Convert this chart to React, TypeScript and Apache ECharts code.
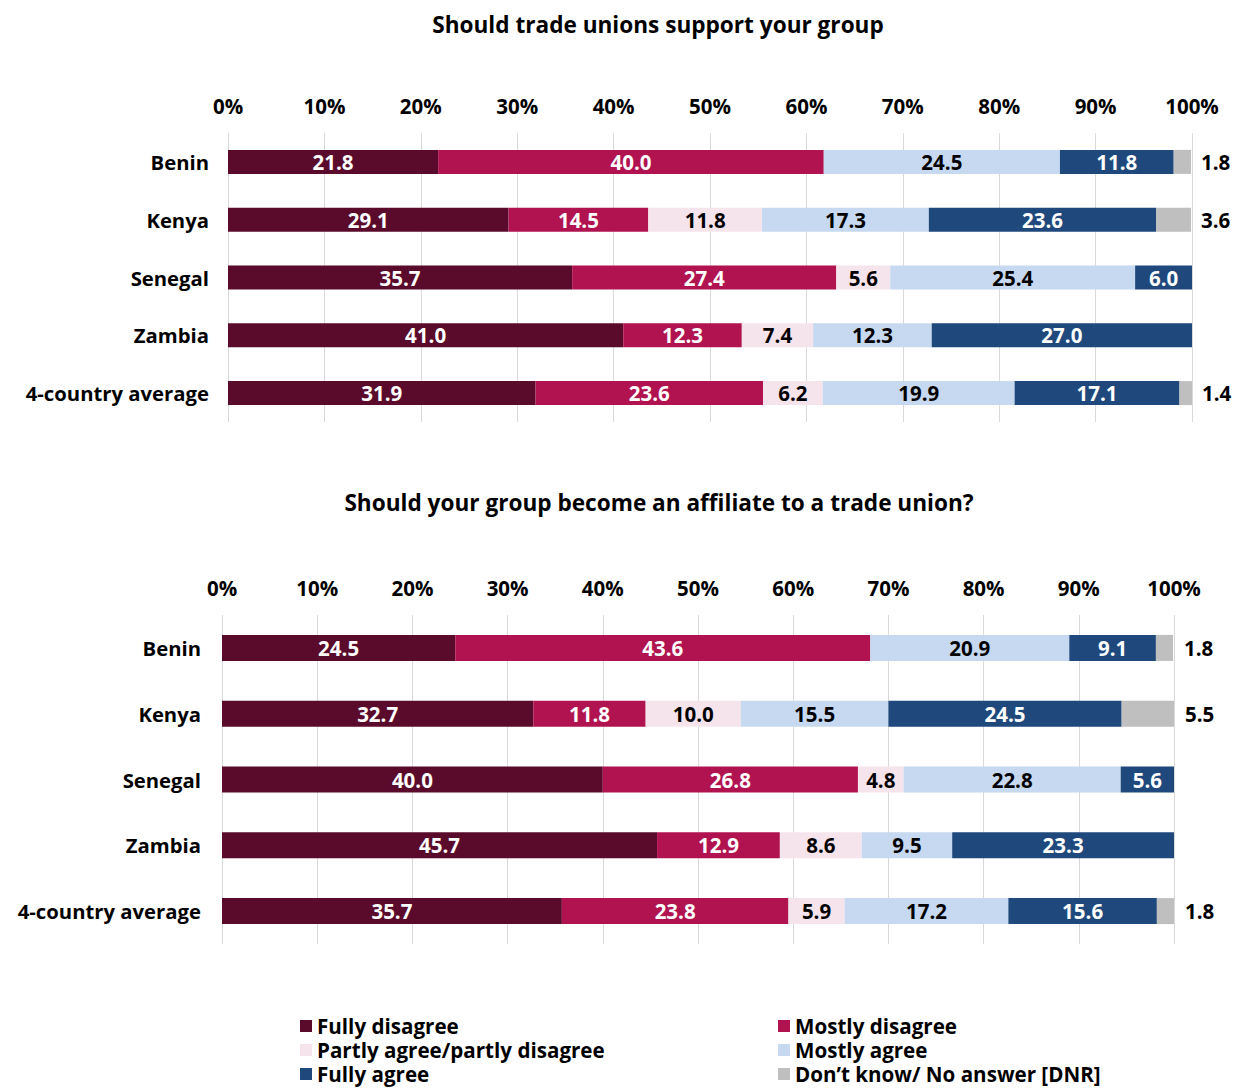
import React, { useEffect, useRef } from "react";
import * as echarts from "echarts";

const seriesNames = [
  "Fully disagree",
  "Mostly disagree",
  "Partly agree/partly disagree",
  "Mostly agree",
  "Fully agree",
  "Don\u2019t know/ No answer [DNR]",
];
const colors = ["#5A0B2B", "#B0134F", "#F6E4EC", "#C6D9F0", "#1F497D", "#BFBFBF"];
const labelColors = ["#FFFFFF", "#FFFFFF", "#000000", "#000000", "#FFFFFF", "#000000"];

const categories = ["Benin", "Kenya", "Senegal", "Zambia", "4-country average"];

const title1 = "Should trade unions support your group";
const title2 = "Should your group become an affiliate to a trade union?";

// Chart 1 values per series, in category order
const c1FullyDisagree = [21.8, 29.1, 35.7, 41.0, 31.9];
const c1MostlyDisagree = [40.0, 14.5, 27.4, 12.3, 23.6];
const c1Partly = [0, 11.8, 5.6, 7.4, 6.2];
const c1MostlyAgree = [24.5, 17.3, 25.4, 12.3, 19.9];
const c1FullyAgree = [11.8, 23.6, 6.0, 27.0, 17.1];
const c1DNR = [1.8, 3.6, 0, 0, 1.4];

// Chart 2 values
const c2FullyDisagree = [24.5, 32.7, 40.0, 45.7, 35.7];
const c2MostlyDisagree = [43.6, 11.8, 26.8, 12.9, 23.8];
const c2Partly = [0, 10.0, 4.8, 8.6, 5.9];
const c2MostlyAgree = [20.9, 15.5, 22.8, 9.5, 17.2];
const c2FullyAgree = [9.1, 24.5, 5.6, 23.3, 15.6];
const c2DNR = [1.8, 5.5, 0, 0, 1.8];

const FONT = "'Open Sans', 'Noto Sans', sans-serif";

export default function App() {
  const ref = useRef<HTMLDivElement>(null);
  useEffect(() => {
    if (!ref.current) return;
    const chart = echarts.init(ref.current, undefined, { renderer: "svg" });
    const chart1 = [c1FullyDisagree, c1MostlyDisagree, c1Partly, c1MostlyAgree, c1FullyAgree, c1DNR];
    const chart2 = [c2FullyDisagree, c2MostlyDisagree, c2Partly, c2MostlyAgree, c2FullyAgree, c2DNR];

    const makeSeries = (data: number[][], idx: number, barWidth: number, dist: number) =>
      data.map((vals, i) => ({
        name: seriesNames[i],
        type: "bar",
        stack: "s" + idx,
        xAxisIndex: idx,
        yAxisIndex: idx,
        barWidth,
        data: vals,
        itemStyle: { color: colors[i] },
        label: {
          show: true,
          position: i === 5 ? "right" : "inside",
          distance: dist,
          color: i === 5 ? "#000000" : labelColors[i],
          fontFamily: FONT,
          fontWeight: "bold",
          fontSize: 20.5,
          formatter: (p: any) => (p.value ? Number(p.value).toFixed(1) : ""),
        },
      }));

    const xAxis = (idx: number) => ({
      type: "value",
      gridIndex: idx,
      position: "top",
      min: 0,
      max: 100,
      interval: 10,
      axisLine: { show: false },
      axisTick: { show: false },
      splitLine: { show: true, lineStyle: { color: "#D9D9D9", width: 1 } },
      axisLabel: {
        formatter: "{value}%",
        color: "#000000",
        fontFamily: FONT,
        fontWeight: "bold",
        fontSize: 20.5,
        margin: 17,
      },
    });
    const yAxis = (idx: number, margin: number) => ({
      type: "category",
      gridIndex: idx,
      inverse: true,
      data: categories,
      axisLine: { show: false },
      axisTick: { show: false },
      axisLabel: {
        color: "#000000",
        fontFamily: FONT,
        fontWeight: "bold",
        fontSize: 20.3,
        margin,
      },
    });

    const legendCommon = {
      orient: "vertical",
      icon: "rect",
      itemWidth: 12,
      itemHeight: 12,
      itemGap: 2,
      padding: 0,
      textStyle: {
        color: "#000000",
        fontFamily: FONT,
        fontWeight: "bold",
        fontSize: 20.6,
        lineHeight: 22,
        padding: [0, 0, 0, 0],
      },
    };

    chart.setOption({
      animation: false,
      backgroundColor: "#FFFFFF",
      grid: [
        { left: 220, right: 41, top: 125, height: 289 },
        { left: 214, right: 59, top: 607, height: 329 },
      ],
      xAxis: [xAxis(0), xAxis(1)],
      yAxis: [yAxis(0, 19), yAxis(1, 21)],
      legend: [
        {
          ...legendCommon,
          left: 292,
          top: 1007,
          data: [seriesNames[0], seriesNames[2], seriesNames[4]],
        },
        {
          ...legendCommon,
          left: 770,
          top: 1007,
          data: [seriesNames[1], seriesNames[3], seriesNames[5]],
        },
      ],
      graphic: [
        {
          type: "text",
          x: 650,
          y: 16,
          style: {
            text: title1,
            fontFamily: FONT,
            fontWeight: "bold",
            fontSize: 22.6,
            fill: "#000000",
            align: "center",
            verticalAlign: "middle",
          },
        },
        {
          type: "text",
          x: 651,
          y: 494,
          style: {
            text: title2,
            fontFamily: FONT,
            fontWeight: "bold",
            fontSize: 22.6,
            fill: "#000000",
            align: "center",
            verticalAlign: "middle",
          },
        },
      ],
      series: [...makeSeries(chart1, 0, 24, 10), ...makeSeries(chart2, 1, 26, 11)],
    });
    return () => chart.dispose();
  }, []);
  return <div ref={ref} style={{ width: 1225, height: 1080 }} />;
}
